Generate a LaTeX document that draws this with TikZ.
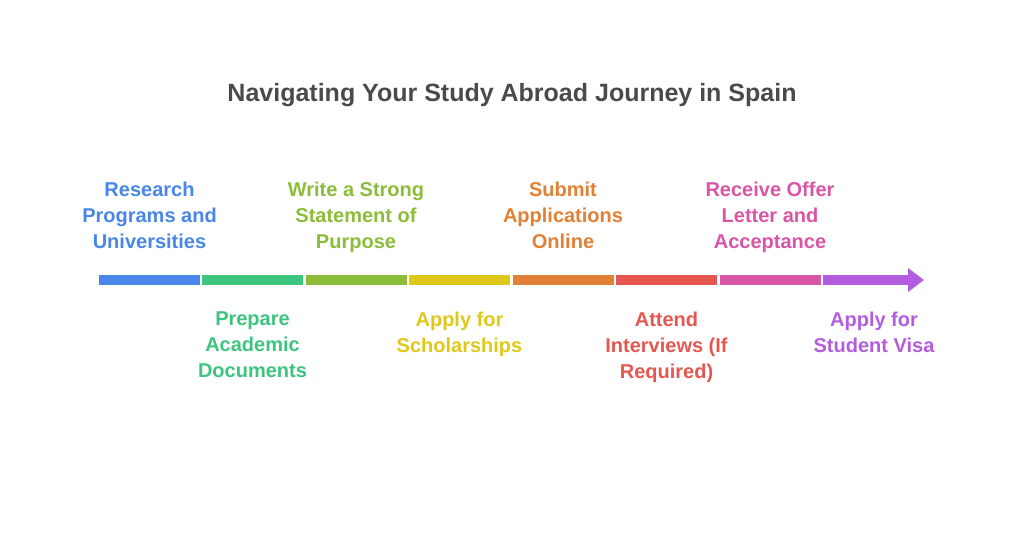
\documentclass[tikz,border=0pt]{standalone}
\usepackage{fontspec}
\setmainfont{Liberation Sans}
\usetikzlibrary{arrows.meta}

\definecolor{cblue}{HTML}{4A86E8}
\definecolor{cgreen}{HTML}{3DC47E}
\definecolor{colive}{HTML}{8BBD3A}
\definecolor{cyellow}{HTML}{DFC81A}
\definecolor{corange}{HTML}{E28033}
\definecolor{cred}{HTML}{E55751}
\definecolor{cpink}{HTML}{D955A5}
\definecolor{cpurple}{HTML}{B45CE0}
\definecolor{ctitle}{HTML}{4A4A4A}

\begin{document}
\begin{tikzpicture}[
    x=1pt, y=-1pt,
    seg/.style={rectangle, minimum width=101pt, minimum height=10pt, inner sep=0pt}, % Стиль для отрезков шкалы
    arrowseg/.style={line width=10pt, -{Triangle[length=16pt, width=23pt]}}, % Последний отрезок со стрелкой
    steplabel/.style={anchor=north, align=center, inner sep=0pt, font=\fontsize{20}{26}\selectfont\bfseries}, % Стиль для подписей
    heading/.style={anchor=base, inner sep=0pt, font=\fontsize{25}{30}\selectfont\bfseries, text=ctitle} % Стиль для заголовка
]
    \useasboundingbox (0,0) rectangle (1024,536);

    % Заголовок
    \node[heading] (title) at (512,101) {Navigating Your Study Abroad Journey in Spain};

    % Шкала
    \node[seg, fill=cblue]   (s1) at (149.5,280) {};
    \node[seg, fill=cgreen]  (s2) at (252.5,280) {};
    \node[seg, fill=colive]  (s3) at (356,280) {};
    \node[seg, fill=cyellow] (s4) at (459.5,280) {};
    \node[seg, fill=corange] (s5) at (563,280) {};
    \node[seg, fill=cred]    (s6) at (666.5,280) {};
    \node[seg, fill=cpink]   (s7) at (770,280) {};
    \coordinate (s8) at (823,280);
    \coordinate (tip) at (924,280);
    \draw[arrowseg, cpurple] (s8) -- (tip);

    % Подписи сверху
    \node[steplabel, text=cblue]   (t1) at (149.5,182) {Research\\Programs and\\Universities};
    \node[steplabel, text=colive]  (t3) at (356,182) {Write a Strong\\Statement of\\Purpose};
    \node[steplabel, text=corange] (t5) at (563,182) {Submit\\Applications\\Online};
    \node[steplabel, text=cpink]   (t7) at (770,182) {Receive Offer\\Letter and\\Acceptance};

    % Подписи снизу
    \node[steplabel, text=cgreen]  (b2) at (252.5,312) {Prepare\\Academic\\Documents};
    \node[steplabel, text=cyellow] (b4) at (459.5,312) {Apply for\\Scholarships};
    \node[steplabel, text=cred]    (b6) at (666.5,312) {Attend\\Interviews (If\\Required)};
    \node[steplabel, text=cpurple] (b8) at (874,312) {Apply for\\Student Visa};

\end{tikzpicture}
\end{document}
